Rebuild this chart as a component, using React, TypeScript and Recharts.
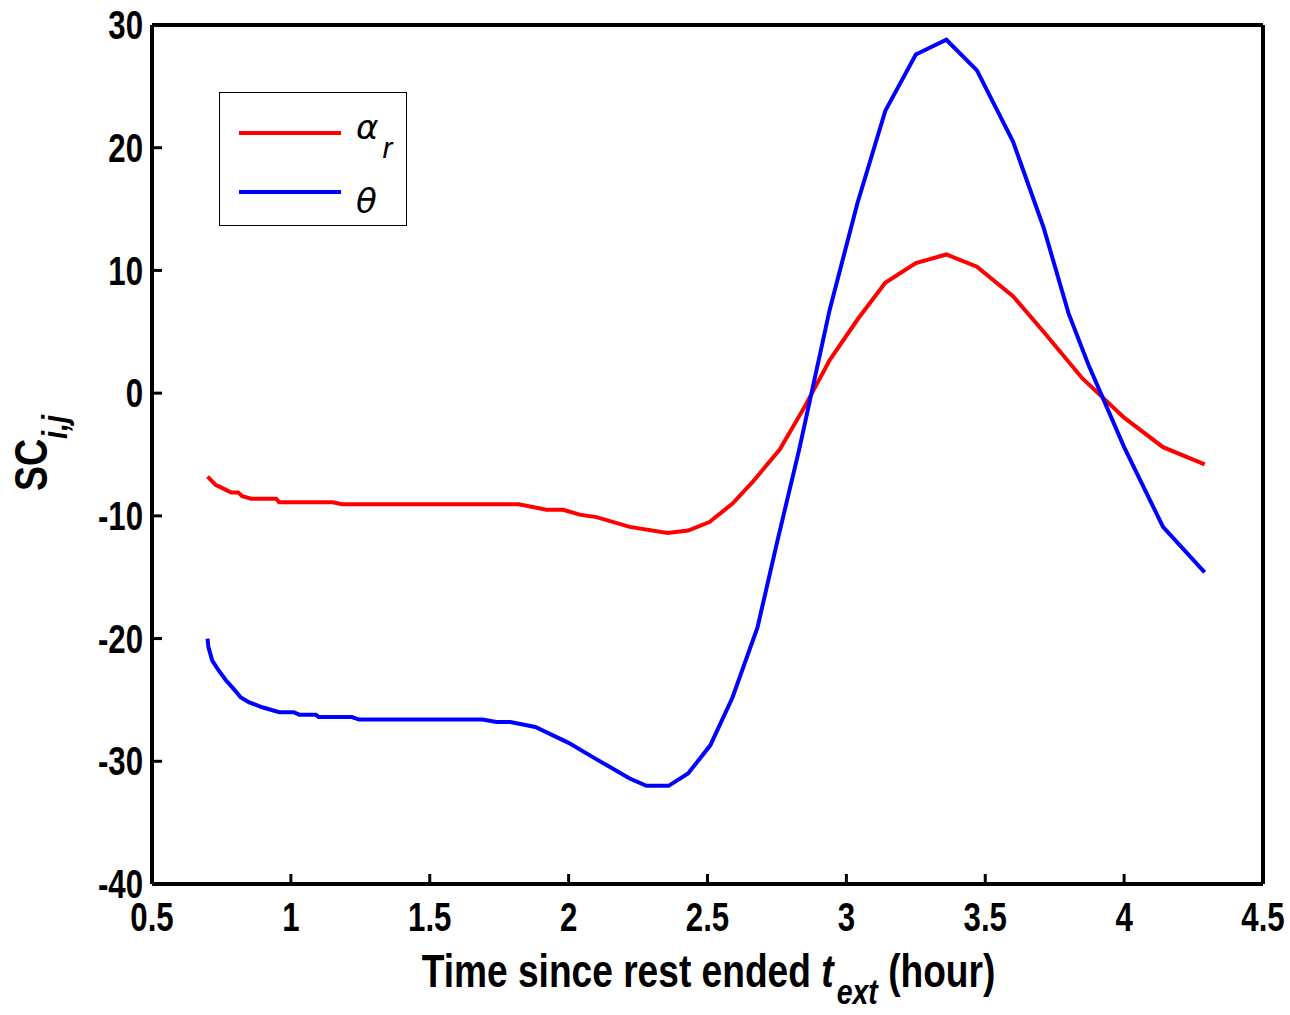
import { LineChart, Line, XAxis, YAxis, Legend } from 'recharts';

const xTicks = [0.5, 1, 1.5, 2, 2.5, 3, 3.5, 4, 4.5];
const yTicks = [-40, -30, -20, -10, 0, 10, 20, 30];

// alpha_r series
const alphaTime = [0.7, 0.73, 0.75, 0.785, 0.81, 0.825, 0.857, 0.947, 0.958, 1.15, 1.185, 1.82, 1.92, 1.98, 2.04, 2.1, 2.22, 2.356, 2.43, 2.507, 2.59, 2.66, 2.76, 2.85, 2.94, 3.04, 3.14, 3.25, 3.36, 3.47, 3.6, 3.71, 3.85, 4.0, 4.14, 4.29];
const alphaValues = [-6.8, -7.5, -7.7, -8.1, -8.1, -8.4, -8.6, -8.6, -8.9, -8.9, -9.05, -9.05, -9.5, -9.5, -9.9, -10.1, -10.9, -11.4, -11.2, -10.5, -9.0, -7.3, -4.6, -1.1, 2.7, 6.0, 9.0, 10.6, 11.3, 10.3, 7.9, 5.0, 1.2, -2.0, -4.4, -5.8];

// theta series
const thetaTime = [0.7, 0.703, 0.717, 0.74, 0.766, 0.79, 0.82, 0.85, 0.897, 0.958, 1.01, 1.03, 1.09, 1.1, 1.22, 1.246, 1.69, 1.74, 1.79, 1.88, 2.0, 2.09, 2.22, 2.28, 2.36, 2.43, 2.51, 2.59, 2.68, 2.75, 2.83, 2.94, 3.04, 3.14, 3.25, 3.36, 3.47, 3.6, 3.71, 3.8, 3.87, 4.0, 4.14, 4.29];
const thetaValues = [-20.0, -20.7, -21.8, -22.6, -23.4, -24.0, -24.8, -25.2, -25.6, -26.0, -26.0, -26.2, -26.2, -26.4, -26.4, -26.6, -26.6, -26.8, -26.8, -27.2, -28.5, -29.7, -31.4, -32.0, -32.0, -31.0, -28.7, -24.8, -19.1, -12.2, -4.6, 6.8, 15.5, 23.0, 27.6, 28.8, 26.3, 20.5, 13.5, 6.5, 2.4, -4.4, -10.9, -14.6];

const alphaData = alphaTime.map((t, i) => ({ t, v: alphaValues[i] }));
const thetaData = thetaTime.map((t, i) => ({ t, v: thetaValues[i] }));

const FONT = "'Liberation Sans', Arial, sans-serif";
const NARROW = 0.78; // condensed look of the original Helvetica Narrow
const axisLine = { stroke: '#000', strokeWidth: 4 };
const tickLine = { stroke: '#000', strokeWidth: 3 };

function NarrowTick(props: any) {
  const { x, y, payload, textAnchor, orientation } = props;
  const dy = orientation === 'bottom' ? '0.71em' : '0.355em';
  return (
    <text
      transform={`translate(${x},${y}) scale(${NARROW},1)`}
      textAnchor={textAnchor}
      dy={dy}
      fontFamily={FONT}
      fontWeight={700}
      fontSize={40}
      fill="#000"
    >
      {payload.value}
    </text>
  );
}

function LegendBox() {
  return (
    <svg width={190} height={136} style={{ display: 'block' }}>
      <rect x={0.5} y={0.5} width={187} height={133} fill="#fff" stroke="#000" strokeWidth={1} />
      <line x1={20} x2={122} y1={41} y2={41} stroke="#ff0000" strokeWidth={4} />
      <line x1={20} x2={122} y1={100} y2={100} stroke="#0000ff" strokeWidth={4} />
      <text x={137} y={47} fontSize={34} fontStyle="italic" fontFamily="'DejaVu Sans', sans-serif">
        α<tspan dx={4} dy={19} fontSize={30} fontFamily="'Liberation Sans', sans-serif">r</tspan>
      </text>
      <text x={137} y={121} fontSize={34} fontStyle="italic" fontFamily="'DejaVu Sans', sans-serif">θ</text>
    </svg>
  );
}

function XTitle(props: any) {
  const { x, width } = props.viewBox;
  const cx = x + width / 2 + 1;
  return (
    <text transform={`translate(${cx},987) scale(0.79,1)`} textAnchor="middle" fontFamily={FONT} fontWeight={700} fontSize={47} fill="#000">
      Time since rest ended <tspan fontStyle="italic">t</tspan>
      <tspan fontStyle="italic" fontSize={36} dx={4} dy={17}>ext</tspan>
      <tspan dy={-17}> (hour)</tspan>
    </text>
  );
}

function YTitle() {
  return (
    <text transform="translate(47,453) rotate(-90) scale(0.8,1)" textAnchor="middle" fontFamily={FONT} fontWeight={700} fontSize={47} fill="#000">
      SC<tspan fontStyle="italic" fontSize={36} dy={20}>i,j</tspan>
    </text>
  );
}

export default function App() {
  return (
    <div style={{ position: 'absolute', left: 0, top: 0, width: 1290, height: 1015, background: '#fff' }}>
      <LineChart width={1290} height={1015} margin={{ top: 24, right: 26, bottom: 71, left: 92 }}>
        <XAxis
          xAxisId="bottom"
          type="number"
          dataKey="t"
          domain={[0.5, 4.5]}
          ticks={xTicks}
          height={60}
          axisLine={axisLine}
          tickLine={tickLine}
          tickSize={-10}
          tickMargin={29}
          tick={<NarrowTick orientation="bottom" />}
          interval={0}
          allowDataOverflow
          label={{ content: XTitle }}
        />
        <XAxis
          xAxisId="top"
          orientation="top"
          type="number"
          dataKey="t"
          domain={[0.5, 4.5]}
          ticks={xTicks}
          height={1}
          axisLine={axisLine}
          tickLine={tickLine}
          tickSize={-10}
          tick={false}
          allowDataOverflow
        />
        <YAxis
          yAxisId="left"
          type="number"
          domain={[-40, 30]}
          ticks={yTicks}
          width={60}
          axisLine={axisLine}
          tickLine={tickLine}
          tickSize={-10}
          tickMargin={19}
          tick={<NarrowTick orientation="left" />}
          interval={0}
          allowDataOverflow
          label={{ content: YTitle }}
        />
        <YAxis
          yAxisId="right"
          orientation="right"
          type="number"
          domain={[-40, 30]}
          ticks={yTicks}
          width={1}
          axisLine={axisLine}
          tickLine={tickLine}
          tickSize={-10}
          tick={false}
          allowDataOverflow
        />
        <Legend
          layout="vertical"
          align="center"
          verticalAlign="middle"
          wrapperStyle={{ left: 219, top: 92, width: 190, height: 136 }}
          content={() => <LegendBox />}
        />
        <Line
          xAxisId="bottom"
          yAxisId="left"
          data={alphaData}
          dataKey="v"
          name="alpha_r"
          type="linear"
          stroke="#ff0000"
          strokeWidth={4}
          dot={false}
          isAnimationActive={false}
        />
        <Line
          xAxisId="bottom"
          yAxisId="left"
          data={thetaData}
          dataKey="v"
          name="theta"
          type="linear"
          stroke="#0000ff"
          strokeWidth={4}
          dot={false}
          isAnimationActive={false}
        />
      </LineChart>
    </div>
  );
}
